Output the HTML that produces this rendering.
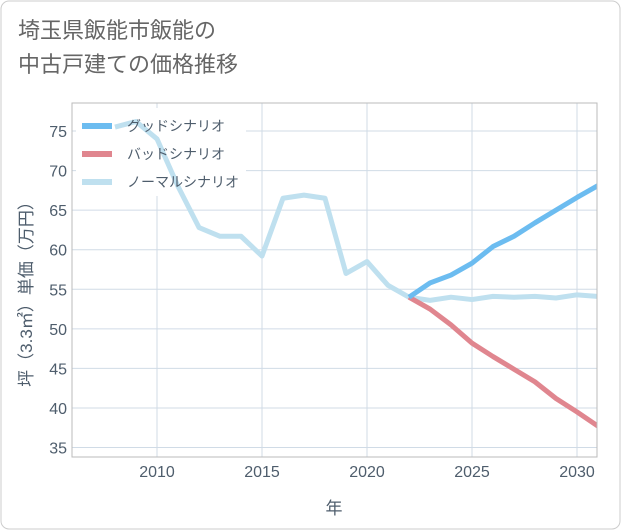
<!DOCTYPE html>
<html><head><meta charset="utf-8"><style>
body{margin:0;background:#fff;}
#wrap{position:relative;width:621px;height:530px;font-family:"Liberation Sans","Noto Sans CJK JP",sans-serif;}
.title{position:absolute;left:18px;top:14px;font-size:22px;line-height:34px;color:#666;}
</style></head><body>
<div id="wrap">
<svg width="621" height="530" style="position:absolute;left:0;top:0">
<rect x="1" y="1" width="619" height="528" rx="8" fill="#fff" stroke="#ccc"/>
<g id="grid"></g><g id="legbg"></g><g id="lines"></g><g id="axes"></g><g id="legend"></g>
</svg>
<div class="title">埼玉県飯能市飯能の<br>中古戸建ての価格推移</div>
</div>
<script>
const years=[2008,2009,2010,2011,2012,2013,2014,2015,2016,2017,2018,2019,2020,2021,2022,2023,2024,2025,2026,2027,2028,2029,2030,2031];
const normal=[75.5,76.2,74,68,62.8,61.7,61.7,59.2,66.5,66.9,66.5,57,58.5,55.5,54,53.6,54,53.7,54.1,54,54.1,53.9,54.3,54.1];
const goodYears=[2022,2023,2024,2025,2026,2027,2028,2029,2030,2031];
const good=[54,55.8,56.8,58.3,60.4,61.7,63.4,65,66.6,68.1];
const bad=[54,52.5,50.5,48.2,46.5,44.9,43.3,41.2,39.5,37.7];
const xTicks=[2010,2015,2020,2025,2030];
const yTicks=[35,40,45,50,55,60,65,70,75];
const L=72,R=597,T=103,B=457;
const X=y=>157+(y-2010)*21;
const Y=v=>131+(75-v)*7.914;
const NS="http://www.w3.org/2000/svg";
const TC='#4e5d6c';
function mk(p,t,a){const e=document.createElementNS(NS,t);for(const k in a)e.setAttribute(k,a[k]);p.appendChild(e);return e;}
const grid=document.getElementById('grid'),axes=document.getElementById('axes'),lines=document.getElementById('lines'),leg=document.getElementById('legend'),legbg=document.getElementById('legbg');
xTicks.forEach(t=>{const l=mk(grid,'line',{x1:X(t),x2:X(t),y1:T,y2:B,stroke:'#d0dbe6'});

const tx=mk(axes,'text',{x:X(t),y:477,'text-anchor':'middle','font-size':16,fill:TC});tx.textContent=t;
});
yTicks.forEach(t=>{const l=mk(grid,'line',{x1:L,x2:R,y1:Y(t),y2:Y(t),stroke:'#d0dbe6'});

const tx=mk(axes,'text',{x:67,y:Y(t)+6,'text-anchor':'end','font-size':16,fill:TC});tx.textContent=t;
});
const fr=mk(axes,'rect',{x:L,y:T,width:R-L,height:B-T,fill:'none',stroke:'#bbb'});

const xt=mk(axes,'text',{x:334,y:514,'text-anchor':'middle','font-size':17,fill:TC});xt.textContent='年';

const yt=mk(axes,'text',{x:0,y:0,'text-anchor':'middle','font-size':17,fill:TC,transform:'translate(32,290) rotate(-90)'});yt.textContent='坪（3.3㎡）単価（万円）';

function path(xs,vs,c,name){const d=vs.map((v,i)=>(i?'L':'M')+X(xs[i])+','+Y(v)).join('');
const p=mk(lines,'path',{d:d,fill:'none',stroke:c,'stroke-width':5,'stroke-linejoin':'round'});
}
const cp=mk(lines,'clipPath',{id:'cp'});mk(cp,'rect',{x:L,y:T,width:R-L,height:B-T});
lines.setAttribute('clip-path','url(#cp)');
const lb=mk(legbg,'rect',{x:76,y:108,width:170,height:88,fill:'#fff'});

path(years,normal,'#bfe0ef','normal-scenario-line');
path(goodYears,bad,'#e0868f','bad-scenario-line');
path(goodYears,good,'#6cbcf0','good-scenario-line');
[['グッドシナリオ','#6cbcf0'],['バッドシナリオ','#e0868f'],['ノーマルシナリオ','#bfe0ef']].forEach((e,i)=>{
const y=126+i*28;
const l=mk(leg,'line',{x1:82,x2:112,y1:y,y2:y,stroke:e[1],'stroke-width':6});

const t=mk(leg,'text',{x:127,y:y+5,'font-size':14,fill:TC});t.textContent=e[0];
});
</script>
</body></html>
